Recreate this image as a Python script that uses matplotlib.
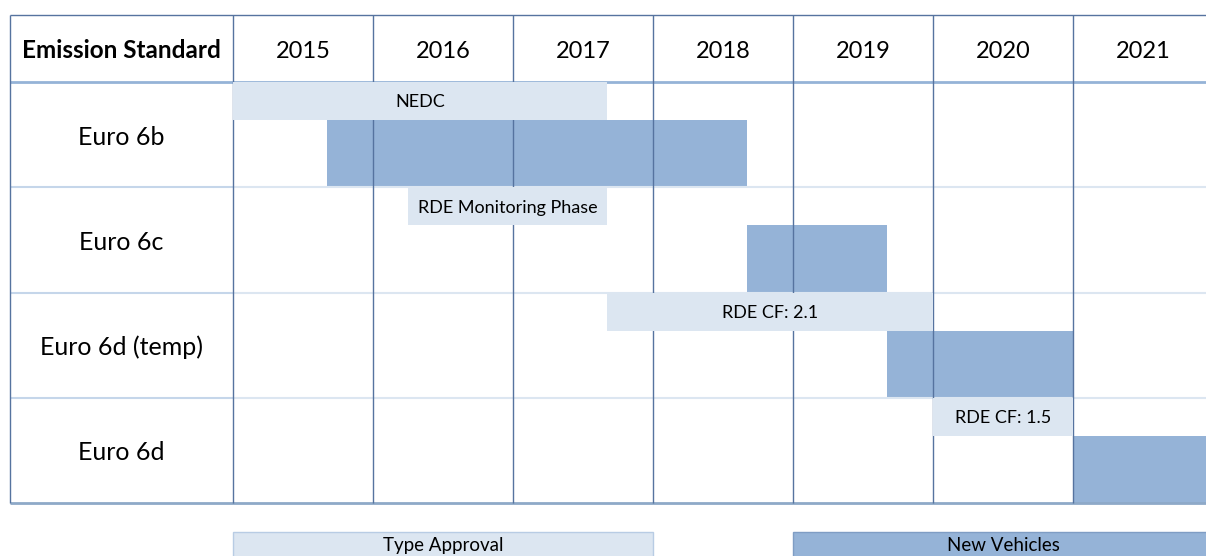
import matplotlib.pyplot as plt

plt.rcParams["font.family"] = ["Lato", "DejaVu Sans"]

standards = ["Euro 6b", "Euro 6c", "Euro 6d (temp)", "Euro 6d"]
years = [2015, 2016, 2017, 2018, 2019, 2020, 2021]

# type approval phases (light bars)
ta_start = [2015.0, 2016.25, 2017.67, 2020.0]
ta_end = [2017.67, 2017.67, 2020.0, 2021.0]
ta_text = ["NEDC", "RDE Monitoring Phase", "RDE CF: 2.1", "RDE CF: 1.5"]

# new vehicles (dark bars)
nv_start = [2015.67, 2018.67, 2019.67, 2021.0]
nv_end = [2018.67, 2019.67, 2021.0, 2022.0]

legend_labels = ["Type Approval", "New Vehicles"]
legend_start = [2015, 2019]
legend_end = [2018, 2022]

light = "#DCE6F1"
dark = "#95B3D7"
grid_col = "#56739F"

fig = plt.figure(figsize=(12.06, 5.56), dpi=100)
ax = fig.add_axes([0, 0, 1, 1])

row_px = 105.25
x_left = 2015 - 233 / 140
x_right = 2015 + 973 / 140
tab_left = 2015 - 223 / 140
head_top = -67 / row_px
light_h = 38 / row_px
nudge = 2.5 / row_px  # push text a bit down

ax.set_xlim(x_left, x_right)
ax.set_ylim((556 - 82) / row_px, -82 / row_px)
ax.axis("off")

for i in range(len(standards)):
    ax.barh(i, ta_end[i] - ta_start[i], left=ta_start[i], height=light_h,
            align="edge", color=light, zorder=3)
    ax.text((ta_start[i] + ta_end[i]) / 2, i + light_h / 2 + nudge / 2, ta_text[i],
            ha="center", va="center", fontsize=13, zorder=4)
    ax.barh(i + light_h, nv_end[i] - nv_start[i], left=nv_start[i],
            height=1 - light_h, align="edge", color=dark, zorder=1)
    ax.text((tab_left + 2015) / 2, i + 0.5 + nudge, standards[i],
            ha="center", va="center", fontsize=18)

# table lines
ax.hlines([1, 2, 3], 2015, x_right, color=light, lw=1.5, zorder=2)
ax.hlines([1, 2, 3], tab_left, 2015, color="#C5D6EA", lw=1.5, zorder=2)
ax.hlines(0, tab_left, x_right, color=dark, lw=2, zorder=2)
ax.hlines(4, tab_left, x_right, color="#8EA9C8", lw=2, zorder=2)
ax.hlines(head_top, tab_left, x_right, color=grid_col, lw=1, zorder=2)
ax.vlines([tab_left] + years, head_top, 4, color=grid_col, lw=1, zorder=2)

ax.text((tab_left + 2015) / 2, head_top / 2 + nudge, "Emission Standard",
        ha="center", va="center", fontsize=17.5, fontweight="bold")
for y in years:
    ax.text(y + 0.5, head_top / 2 + nudge, str(y), ha="center", va="center",
            fontsize=17)

# legend boxes at the bottom
leg_top = (532 - 82) / row_px
for lab, s, e, c, ec in zip(legend_labels, legend_start, legend_end,
                            [light, dark], ["#B8CCE4", "#7F9DC4"]):
    ax.barh(leg_top, e - s, left=s, height=1, align="edge", color=c,
            edgecolor=ec, lw=1)
    ax.text((s + e) / 2, leg_top + 13 / row_px, lab, ha="center", va="center",
            fontsize=13.5)

fig.savefig("out.png", dpi=100)
